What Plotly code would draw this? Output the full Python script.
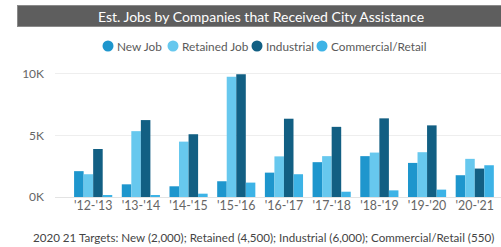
import plotly.graph_objects as go

categories = ["'12-'13", "'13-'14", "'14-'15", "'15-'16", "'16-'17", "'17-'18", "'18-'19", "'19-'20", "'20-'21"]
new_job = [2100, 1030, 870, 1280, 1980, 2830, 3320, 2770, 1770]
retained_job = [1850, 5350, 4500, 9780, 3300, 3320, 3610, 3640, 3100]
industrial = [3900, 6250, 5100, 9970, 6360, 5700, 6390, 5820, 2310]
commercial = [100, 100, 270, 1170, 1850, 430, 540, 600, 2580]

series_names = ["New Job", "Retained Job", "Industrial", "Commercial/Retail"]
series_vals = [new_job, retained_job, industrial, commercial]
colors = ["#1e96cd", "#67c8ee", "#125f83", "#3db3e6"]

y_tickvals = [0, 5000, 10000]
y_ticktext = ["0K", "5K", "10K"]

title_text = "Est. Jobs by Companies that Received City Assistance"
footnote = "2020 21 Targets: New (2,000); Retained (4,500); Industrial (6,000); Commercial/Retail (550)"

FONT = "Lato"
L, T, B = 55, 69, 50
PW, PH = 501 - L, 247 - T - B


def px_x(x):
    return (x - L) / PW


def px_y(y):
    return (247 - B - y) / PH


fig = go.Figure()
for name, vals, c in zip(series_names, series_vals, colors):
    fig.add_trace(go.Bar(x=categories, y=vals, name=name, marker=dict(color=c, line=dict(width=0)),
                         showlegend=False))

# custom compact legend (circle + label), laid out like the original
legend_x = [108, 173, 257, 322]
legend_y = 46
annotations = []
shapes = []
for name, c, lx in zip(series_names, colors, legend_x):
    r = 5.5
    shapes.append(dict(type="circle", xref="paper", yref="paper",
                       x0=px_x(lx - r), x1=px_x(lx + r), y0=px_y(legend_y + r), y1=px_y(legend_y - r),
                       fillcolor=c, line=dict(width=0)))
    annotations.append(dict(text=name, xref="paper", yref="paper", x=px_x(lx + r + 1), xanchor="left",
                            y=px_y(legend_y), yanchor="middle", showarrow=False,
                            font=dict(family=FONT, size=11.8, color="#5a5a5a")))

annotations.append(dict(text=title_text, xref="paper", yref="paper", x=px_x(17), xanchor="left",
                        y=px_y(5), yanchor="top", showarrow=False,
                        width=484, height=18, bgcolor="#5e5e5e", bordercolor="#8a8a8a", borderwidth=1,
                        font=dict(family=FONT, size=14, color="white"), align="center"))
annotations.append(dict(text=footnote, xref="paper", yref="paper", x=px_x(31), xanchor="left",
                        y=px_y(237), yanchor="middle", showarrow=False,
                        font=dict(family=FONT, size=11.6, color="#444444")))

fig.update_layout(
    width=501, height=247,
    margin=dict(l=L, r=0, t=T, b=B, autoexpand=False),
    paper_bgcolor="white", plot_bgcolor="white",
    barmode="group", bargap=0.2, bargroupgap=0,
    font=dict(family=FONT, size=11, color="#666666"),
    showlegend=False,
    xaxis=dict(type="category", range=[-0.8, 8.55], showgrid=False, showline=False,
               ticks="", tickfont=dict(size=12.4, color="#666666")),
    yaxis=dict(range=[0, 10400], tickvals=y_tickvals, ticktext=y_ticktext,
               showgrid=True, gridcolor="#eeeeee", gridwidth=1,
               zeroline=True, zerolinecolor="#e3e3e3", zerolinewidth=1,
               ticks="", ticklabelstandoff=10, tickfont=dict(size=12, color="#666666")),
    shapes=shapes,
    annotations=annotations,
)

fig.write_html("out.html", config={"displayModeBar": False},
               post_script="document.body.style.margin='0px';")
